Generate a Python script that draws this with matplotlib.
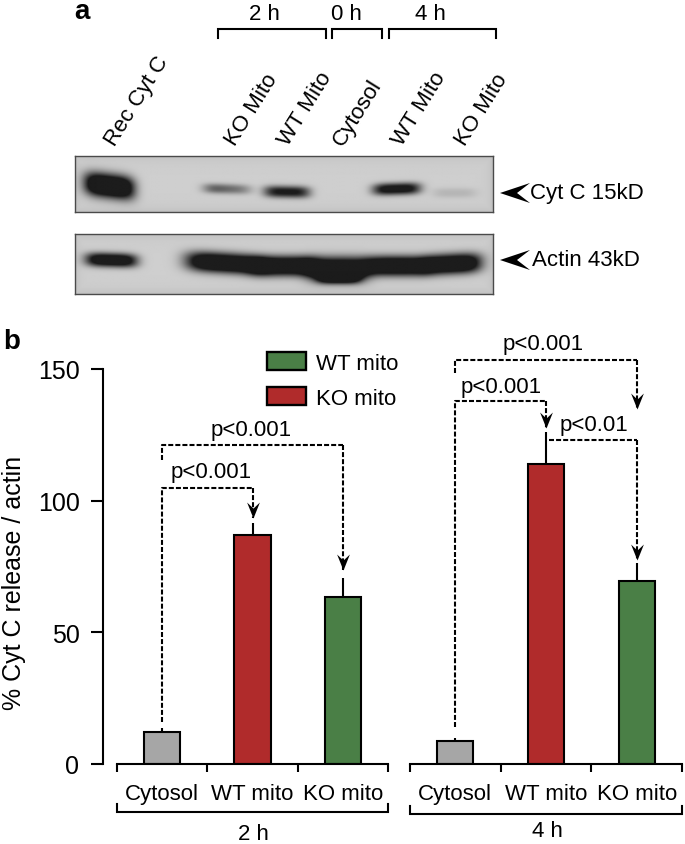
import numpy as np
import matplotlib
matplotlib.use('Agg')
from matplotlib import pyplot as plt
from matplotlib.patches import Patch, Polygon
from matplotlib.path import Path

plt.rcParams['font.family'] = ['Liberation Sans', 'DejaVu Sans']

# bar data
categories = ['Cytosol', 'WT mito', 'KO mito']
values_2h = [12, 87, 63.5]
errors_2h = [1.5, 4.5, 7]
values_4h = [8.7, 114, 69.5]
errors_4h = [1, 12, 7]
bar_colors = ['#a6a6a6', '#b02b2b', '#4a7f46']
y_ticks = [0, 50, 100, 150]
lane_labels = ['Rec Cyt C', 'KO Mito', 'WT Mito', 'Cytosol', 'WT Mito', 'KO Mito']

# band darkness per lane of the blots
cyt_band = [1.7, 0.62, 1.05, 1.2, 0.14]
actin_band = [1.4, 1.6, 1.6, 1.6, 1.6, 1.6]

W, H = 685, 845
fig = plt.figure(figsize=(W / 100, H / 100), dpi=100)


def px_axes(x0, y0, x1, y1):
    return fig.add_axes([x0 / W, 1 - y1 / H, (x1 - x0) / W, (y1 - y0) / H])


def band(x, y, cx, cy, wx, wy, skew=0.0):
    yy = y - cy - skew * (x - cx)
    return np.exp(-((x - cx) / wx) ** 4) * np.exp(-np.abs(yy / wy) ** 2.4)


def draw_blot(x0, y0, x1, y1, dark):
    ax = px_axes(x0, y0, x1, y1)
    xx, yy = np.meshgrid(np.linspace(x0, x1, 420), np.linspace(y0, y1, 70))
    edge = np.minimum(np.minimum(xx - x0, x1 - xx), np.minimum(yy - y0, y1 - yy))
    img = 0.81 - 0.05 * np.exp(-edge / 5) - (0.81 - 0.11) * np.clip(dark(xx, yy), 0, 1)
    ax.imshow(img, cmap='gray', vmin=0, vmax=1, extent=[x0, x1, y1, y0], aspect='auto')
    ax.set_xticks([]), ax.set_yticks([])
    for s in ax.spines.values():
        s.set_color('#4a4a4a')
        s.set_linewidth(1)


def cyt_dark(x, y):
    d = cyt_band[0] * band(x, y, 109, 187, 25, 12, 0.12)
    d += cyt_band[1] * band(x, y, 228, 190, 24, 5, 0.03) * (1.15 - (x - 206) / 90)
    d += cyt_band[2] * band(x, y, 287, 193, 23, 6, 0.02)
    d += cyt_band[3] * band(x, y, 397, 190, 24, 6, -0.03)
    d += cyt_band[4] * band(x, y, 455, 194, 22, 5)
    return d


def actin_dark(x, y):
    d = actin_band[0] * band(x, y, 111, 261, 26, 7, 0.03)
    d += actin_band[1] * band(x, y, 224, 264, 38, 10, 0.06)
    d += actin_band[2] * band(x, y, 283, 267, 32, 10)
    d += actin_band[3] * band(x, y, 338, 270, 32, 12)
    d += 1.0 * band(x, y, 339, 279, 22, 6)
    d += actin_band[4] * band(x, y, 397, 267, 32, 10)
    d += actin_band[5] * band(x, y, 452, 265, 30, 10, -0.05)
    return d


draw_blot(75, 157, 493, 213, cyt_dark)
draw_blot(75, 235, 493, 295, actin_dark)

# bar panels, x runs over the three categories
lw = 1.5
ax_l = px_axes(117, 370, 388, 765)
ax_r = px_axes(410, 370, 682, 765)
for ax, vals, errs in [(ax_l, values_2h, errors_2h), (ax_r, values_4h, errors_4h)]:
    x = np.arange(3) + 0.5
    ax.errorbar(x, vals, yerr=[[0, 0, 0], errs], fmt='none', ecolor='black',
                elinewidth=lw, capsize=0, zorder=1)
    ax.bar(x, vals, width=0.4, color=bar_colors, edgecolor='black', linewidth=lw, zorder=2)
    ax.set_xlim(0, 3)
    ax.set_ylim(0, 150)
    ax.patch.set_visible(False)
    ax.spines['top'].set_visible(False)
    ax.spines['right'].set_visible(False)
    ax.spines['bottom'].set_linewidth(lw)
    ax.set_xticks(x)
    ax.set_xticklabels(categories, fontsize=16)
    ax.tick_params(axis='x', which='major', length=0, pad=14)
    ax.set_xticks([0, 1, 2, 3], minor=True)
    ax.tick_params(axis='x', which='minor', length=6, width=lw)

ax_l.spines['left'].set_position(('outward', 10))
ax_l.spines['left'].set_linewidth(lw)
ax_l.set_yticks(y_ticks)
ax_l.tick_params(axis='y', length=9, width=lw, labelsize=18, pad=8)
ax_r.spines['left'].set_visible(False)
ax_r.set_yticks([])

# stealth arrow head with its tip on the origin
head = Path([(0, 0), (-0.4, 1), (0, 0.62), (0.4, 1), (0, 0)])


def link(ax, xs, ys):
    ax.plot(xs, ys, color='black', lw=1.5, ls=(0, (2.4, 1.0)), clip_on=False, zorder=4)


def arrow(ax, xs, ys):
    link(ax, xs, ys)
    ax.plot([xs[-1]], [ys[-1]], marker=head, ms=23, color='black', mew=0,
            clip_on=False, zorder=5)


def ptext(ax, x, y, s):
    ax.text(x, y, s, fontsize=16, ha='center', va='center', clip_on=False)


link(ax_l, [0.5, 0.5, 1.5], [16, 105, 105])
arrow(ax_l, [1.5, 1.5], [105, 93.5])
link(ax_l, [0.5, 0.5, 2.5], [115.5, 121, 121])
arrow(ax_l, [2.5, 2.5], [121, 73.5])
ptext(ax_l, 1.49, 127, 'p<0.001')
ptext(ax_l, 1.04, 111, 'p<0.001')

link(ax_r, [0.5, 0.5, 1.5], [14, 138, 138])
arrow(ax_r, [1.5, 1.5], [138, 127.5])
link(ax_r, [0.5, 0.5, 2.5], [148.5, 153.5, 153.5])
arrow(ax_r, [2.5, 2.5], [153.5, 135])
link(ax_r, [1.53, 2.5], [123, 123])
arrow(ax_r, [2.5, 2.5], [123, 77.5])
ptext(ax_r, 1.47, 159.5, 'p<0.001')
ptext(ax_r, 1.01, 143.5, 'p<0.001')
ptext(ax_r, 2.03, 129, 'p<0.01')

# everything else is placed in picture pixels
ov = fig.add_axes([0, 0, 1, 1], zorder=6)
ov.set_xlim(0, W)
ov.set_ylim(H, 0)
ov.axis('off')

ov.text(74, 19, 'a', fontsize=20, fontweight='bold', va='baseline')
ov.text(3, 349, 'b', fontsize=20, fontweight='bold', va='baseline')
ov.text(14, 583, '% Cyt C release / actin', fontsize=18, rotation=90, ha='center', va='center')


def bracket(x0, x1, y, drop):
    ov.plot([x0, x0, x1, x1], [y + drop, y, y, y + drop], color='black', lw=1.5,
            solid_joinstyle='miter')


for x0, x1, cx, s in [(218, 326, 264, '2 h'), (332, 382, 346, '0 h'), (389, 496, 430, '4 h')]:
    bracket(x0, x1, 30, 9)
    ov.text(cx, 15, s, fontsize=16, ha='center', va='center')

lane_x = [115, 235, 288, 343, 402, 465]
for lx, s in zip(lane_x, lane_labels):
    ov.text(lx, 147, s, fontsize=16, rotation=58, rotation_mode='anchor',
            ha='left', va='baseline')

for ya, s, tx in [(194, 'Cyt C 15kD', 530), (261, 'Actin 43kD', 532)]:
    ov.add_patch(Polygon([(500, ya), (530, ya - 10), (517, ya), (530, ya + 10)],
                         closed=True, color='black', lw=0))
    ov.text(tx, ya, s, fontsize=16, va='center')

bracket(117, 388, 813, -8)
ov.text(253, 835, '2 h', fontsize=16, ha='center', va='center')
bracket(410, 682, 815, -8)
ov.text(547, 832, '4 h', fontsize=16, ha='center', va='center')

fig.legend(handles=[Patch(facecolor=bar_colors[2], edgecolor='black', linewidth=1.7, label='WT mito'),
                    Patch(facecolor=bar_colors[1], edgecolor='black', linewidth=1.7, label='KO mito')],
           loc='upper left', bbox_to_anchor=(267 / W, 1 - 353 / H), frameon=False, fontsize=16,
           borderpad=0, borderaxespad=0, handlelength=1.77, handleheight=0.9,
           labelspacing=0.58, handletextpad=0.45)

fig.savefig('out.png', dpi=100)
